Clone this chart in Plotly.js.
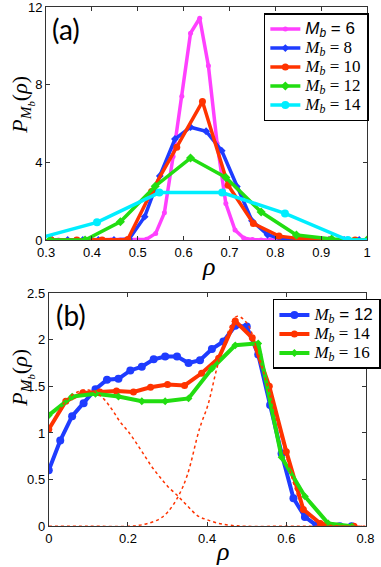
<!DOCTYPE html>
<html>
<head>
<meta charset="utf-8">
<script src="https://cdn.plot.ly/plotly-3.0.1.min.js"></script>
<style>
  body { margin: 0; background: #fff; }
  #plotField { width: 381px; height: 567px; }
</style>
</head>
<body>
<div id="plotField"></div>
<script>
// panel (a): P_Mb(rho) for small Mb
var rhoA6 = [0.308, 0.327, 0.346, 0.366, 0.385, 0.404, 0.423, 0.442, 0.462, 0.481, 0.500, 0.519, 0.539, 0.558, 0.577, 0.596, 0.615, 0.635, 0.654, 0.673, 0.692, 0.712, 0.731, 0.750, 0.769, 0.788, 0.808, 0.827, 0.846, 0.865, 0.885, 0.904, 0.923, 0.942, 0.962, 0.981, 1.0];
var pA6 = [0, 0, 0, 0, 0, 0, 0, 0, 0, 0, 0, 0.04, 0.34, 1.4, 4.3, 7.4, 10.65, 11.42, 8.97, 4.97, 1.88, 0.51, 0.1, 0.02, 0, 0, 0, 0, 0, 0, 0, 0, 0, 0, 0, 0, 0];

var rhoA8 = [0.313, 0.347, 0.380, 0.414, 0.448, 0.481, 0.515, 0.548, 0.581, 0.615, 0.649, 0.683, 0.716, 0.749, 0.783, 0.816, 0.850, 0.883, 0.917, 0.950, 0.983];
var pA8 = [0, 0, 0, 0, 0, 0.05, 1.2, 3.3, 5.2, 5.81, 5.6, 4.6, 2.75, 0.99, 0.27, 0.03, 0, 0, 0, 0, 0];

var rhoA10 = [0.311, 0.367, 0.422, 0.478, 0.530, 0.585, 0.641, 0.697, 0.752, 0.808, 0.863, 0.919, 0.974];
var pA10 = [0, 0, 0, 0.03, 2.5, 4.77, 7.13, 2.82, 0.85, 0.2, 0.04, 0, 0];

var rhoA12 = [0.308, 0.385, 0.462, 0.538, 0.615, 0.692, 0.769, 0.846, 0.923, 1.0];
var pA12 = [0, 0, 0.94, 2.77, 4.22, 3.22, 1.44, 0.26, 0.05, 0];

var rhoA14 = [0.274, 0.411, 0.547, 0.684, 0.821, 0.958, 1.095];
var pA14 = [0.03, 0.91, 2.44, 2.44, 1.37, 0, 0];

// panel (b): larger Mb
var rhoB12 = [0, 0.029, 0.059, 0.088, 0.118, 0.147, 0.176, 0.206, 0.235, 0.265, 0.294, 0.324, 0.353, 0.382, 0.412, 0.441, 0.471, 0.500, 0.529, 0.559, 0.588, 0.618, 0.647, 0.676, 0.706, 0.735, 0.765];
var pB12 = [0.60, 0.92, 1.18, 1.32, 1.47, 1.57, 1.58, 1.67, 1.71, 1.79, 1.82, 1.82, 1.75, 1.78, 1.90, 1.98, 2.15, 2.14, 1.84, 1.30, 0.78, 0.30, 0.10, 0.01, 0, 0, 0];

var rhoB14 = [0, 0.043, 0.086, 0.129, 0.171, 0.214, 0.257, 0.300, 0.343, 0.386, 0.429, 0.471, 0.514, 0.557, 0.600, 0.643, 0.686, 0.729, 0.771];
var pB14 = [1.04, 1.34, 1.43, 1.44, 1.45, 1.44, 1.49, 1.52, 1.51, 1.64, 1.80, 2.20, 2.02, 1.50, 0.80, 0.18, 0.03, 0, 0];

var rhoB16 = [0, 0.059, 0.118, 0.176, 0.235, 0.294, 0.353, 0.412, 0.471, 0.529, 0.588, 0.647, 0.706, 0.765];
var pB16 = [1.19, 1.39, 1.42, 1.39, 1.34, 1.34, 1.37, 1.69, 1.94, 1.96, 0.74, 0.32, 0.03, 0];

// dotted fit curves
var rhoFitL = [0, 0.02, 0.04, 0.06, 0.08, 0.10, 0.12, 0.14, 0.16, 0.18, 0.20, 0.22, 0.24, 0.26, 0.28, 0.30, 0.327, 0.35, 0.377, 0.40, 0.43, 0.46, 0.50, 0.60, 0.70, 0.80];
var pFitL = [1.02, 1.2, 1.33, 1.41, 1.45, 1.46, 1.43, 1.36, 1.25, 1.12, 1.02, 0.90, 0.77, 0.64, 0.53, 0.43, 0.32, 0.22, 0.11, 0.07, 0.03, 0.01, 0, 0, 0, 0];
var rhoFitR = [0, 0.10, 0.20, 0.227, 0.25, 0.28, 0.30, 0.327, 0.35, 0.381, 0.402, 0.425, 0.45, 0.475, 0.50, 0.531, 0.564, 0.60, 0.627, 0.65, 0.677, 0.70, 0.75, 0.80];
var pFitR = [0, 0, 0, 0.01, 0.03, 0.08, 0.15, 0.32, 0.55, 1.05, 1.30, 1.70, 2.05, 2.25, 2.18, 1.82, 1.32, 0.75, 0.35, 0.16, 0.07, 0.02, 0, 0];

var magenta = '#ff40ff', blue = '#1f3cff', red = '#ff3300', green = '#22dd11', cyan = '#00eeff';

// legend rows are sized from the small legend font, the text itself is larger
function mb(n, sans) {
    var inner = sans ? '<span style="font-family:Liberation Sans">' : '<span>';
    return '<span style="font-size:17px">' + inner + '<i>M<sub>b</sub></i> = ' + n + '</span></span>';
}

function series(x, y, name, color, symbol, size, xa, ya, leg, width) {
    return {
        x: x, y: y, name: name, type: 'scatter', mode: 'lines+markers',
        xaxis: xa, yaxis: ya, legend: leg,
        line: {color: color, width: width},
        marker: {color: color, symbol: symbol, size: size},
        cliponaxis: true
    };
}

var data = [
    series(rhoA6, pA6, mb(6, true), magenta, 'circle', 5, 'x', 'y', 'legend', 3.5),
    series(rhoA8, pA8, mb(8), blue, 'diamond', 6, 'x', 'y', 'legend', 3.5),
    series(rhoA10, pA10, mb(10), red, 'circle', 7, 'x', 'y', 'legend', 3.5),
    series(rhoA12, pA12, mb(12), green, 'diamond', 7, 'x', 'y', 'legend', 3.5),
    series(rhoA14, pA14, mb(14), cyan, 'circle', 8, 'x', 'y', 'legend', 3.5),
    series(rhoB12, pB12, '<span style="font-size:17px"><i>M<sub>b</sub></i><span style="font-family:Liberation Sans"> = 12</span></span>', blue, 'circle', 8, 'x2', 'y2', 'legend2', 4),
    series(rhoB14, pB14, mb(14), red, 'circle', 7, 'x2', 'y2', 'legend2', 4),
    series(rhoB16, pB16, mb(16), green, 'diamond', 6, 'x2', 'y2', 'legend2', 4),
    {x: rhoFitL, y: pFitL, type: 'scatter', mode: 'lines', xaxis: 'x2', yaxis: 'y2',
     line: {color: red, width: 1.5, dash: 'dot', shape: 'spline'}, showlegend: false},
    {x: rhoFitR, y: pFitR, type: 'scatter', mode: 'lines', xaxis: 'x2', yaxis: 'y2',
     line: {color: red, width: 1.5, dash: 'dot', shape: 'spline'}, showlegend: false}
];

var axisStyle = {
    showline: true, linecolor: '#333', linewidth: 1, mirror: 'ticks',
    ticks: 'inside', ticklen: 4, tickcolor: '#333',
    showgrid: false, zeroline: false, ticklabeloverflow: 'allow',
    tickfont: {family: 'Liberation Sans', size: 13, color: '#000'}
};

function ax(extra) { return Object.assign({}, axisStyle, extra); }

var legendStyle = {
    bgcolor: '#fff', bordercolor: '#000', borderwidth: 1.5,
    font: {family: 'Liberation Serif', size: 12, color: '#000'},
    xanchor: 'left', yanchor: 'top', itemwidth: 30, tracegroupgap: 0
};

function note(text, px, py, size, family, angle) {
    return {text: text, x: px / 381, y: 1 - py / 567, xref: 'paper', yref: 'paper',
            xanchor: 'center', yanchor: 'middle', showarrow: false, textangle: angle || 0,
            font: {family: family, size: size, color: '#000'}};
}

var yTitle = '<i>P</i><sub><i>M<sub>b</sub></i></sub>(<i>ρ</i>)';

var layout = {
    width: 381, height: 567,
    margin: {l: 0, r: 0, t: 0, b: 0},
    paper_bgcolor: '#fff', plot_bgcolor: '#fff',
    xaxis: ax({domain: [0.122, 0.971], range: [0.3, 1], tickvals: [0.3, 0.4, 0.5, 0.6, 0.7, 0.8, 0.9, 1], ticktext: ['0.3', '0.4', '0.5', '0.6', '0.7', '0.8', '0.9', '1'], anchor: 'y'}),
    yaxis: ax({domain: [0.5767, 0.9877], range: [0, 12], tick0: 0, dtick: 4, anchor: 'x'}),
    xaxis2: ax({domain: [0.129, 0.967], range: [0, 0.8], dtick: 0.2, anchor: 'y2'}),
    yaxis2: ax({domain: [0.0718, 0.4832], range: [0, 2.5], dtick: 0.5, anchor: 'x2'}),
    legend: Object.assign({}, legendStyle, {x: 0.698, y: 0.977}),
    legend2: Object.assign({}, legendStyle, {x: 0.722, y: 0.4727}),
    showlegend: true,
    annotations: [
        note('(a)', 67, 29, 28, 'Lato'),
        note('(b)', 72, 315, 28, 'Lato'),
        note(yTitle, 22, 105, 22, 'Liberation Serif', -90),
        note(yTitle, 22, 378, 22, 'Liberation Serif', -90),
        note('<i>ρ</i>', 210, 266, 26, 'Liberation Serif'),
        note('<i>ρ</i>', 224, 551, 26, 'Liberation Serif')
    ]
};

var config = {staticPlot: true, responsive: false};
Plotly.newPlot('plotField', data, layout, config);
</script>
</body>
</html>
